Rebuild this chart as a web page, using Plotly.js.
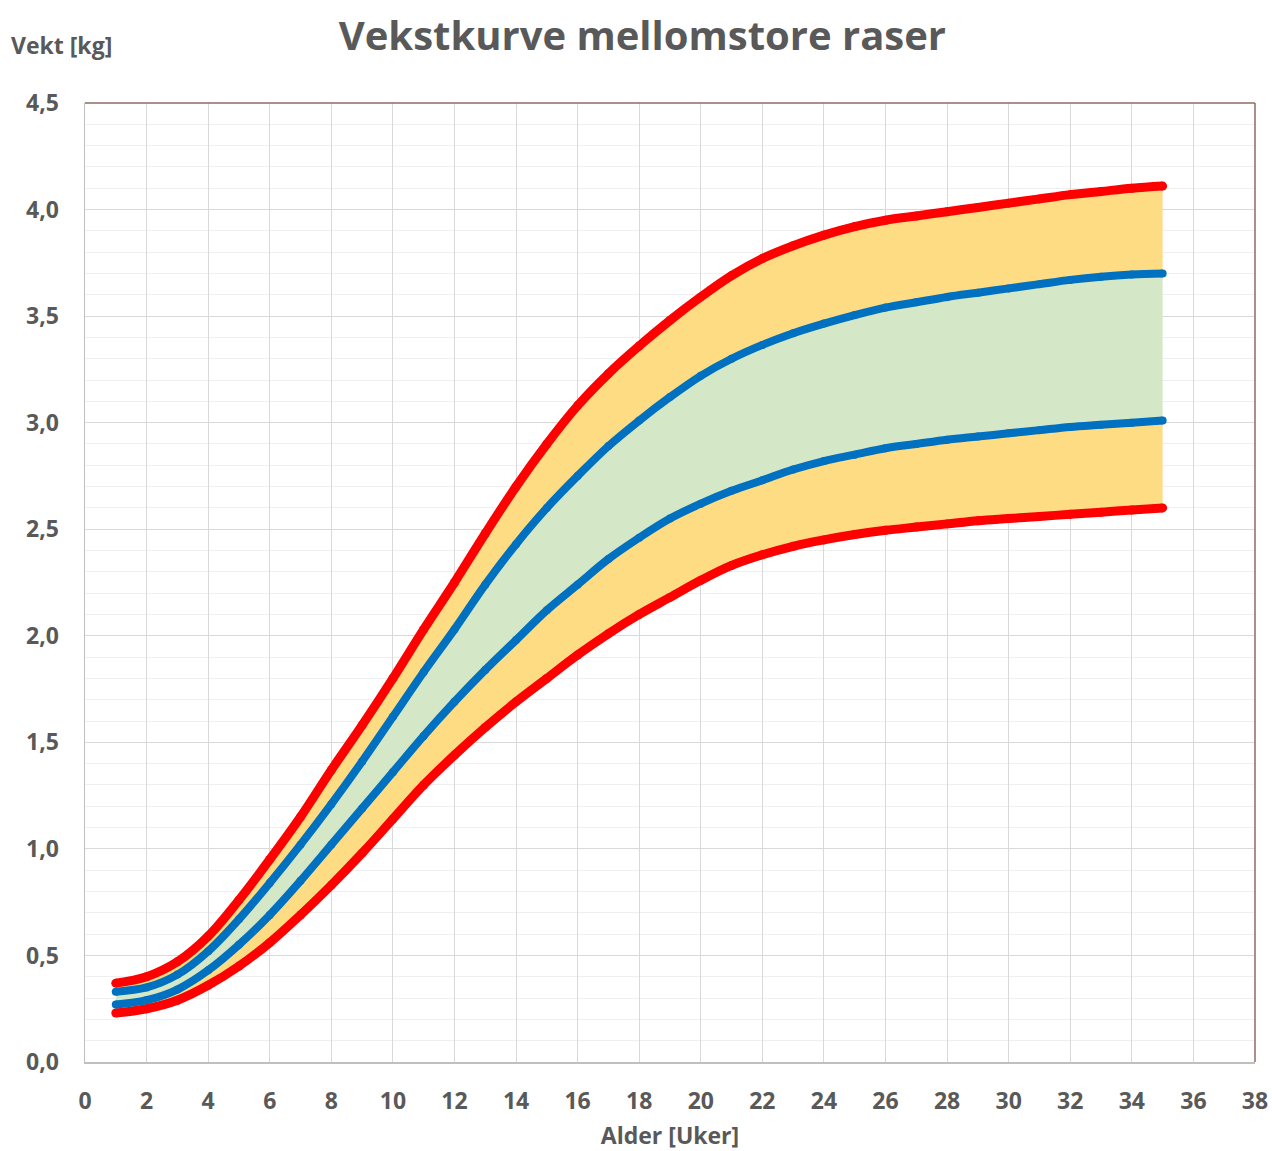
<!DOCTYPE html>
<html>
<head>
<meta charset="utf-8">
<script src="https://cdn.plot.ly/plotly-3.0.1.min.js"></script>
<style>html,body{margin:0;padding:0;background:#fff;}#chart{width:1272px;height:1151px;}</style>
</head>
<body>
<div id="chart"></div>
<script>
const weeks = [1,2,3,4,5,6,7,8,9,10,11,12,13,14,15,16,17,18,19,20,21,22,23,24,25,26,27,28,29,30,31,32,33,34,35];
const upperRed = [0.37,0.40,0.47,0.59,0.76,0.95,1.15,1.37,1.58,1.80,2.03,2.25,2.48,2.70,2.90,3.08,3.23,3.36,3.48,3.59,3.69,3.77,3.83,3.88,3.92,3.95,3.97,3.99,4.01,4.03,4.05,4.07,4.085,4.10,4.11];
const upperBlue = [0.33,0.35,0.41,0.52,0.67,0.84,1.02,1.21,1.41,1.62,1.83,2.03,2.24,2.43,2.60,2.75,2.89,3.01,3.12,3.22,3.30,3.365,3.42,3.465,3.505,3.54,3.565,3.59,3.61,3.63,3.65,3.67,3.685,3.695,3.70];
const lowerBlue = [0.27,0.29,0.34,0.43,0.55,0.69,0.85,1.02,1.19,1.36,1.53,1.69,1.84,1.98,2.12,2.24,2.36,2.46,2.55,2.62,2.68,2.73,2.78,2.82,2.85,2.88,2.90,2.92,2.935,2.95,2.965,2.98,2.99,3.00,3.01];
const lowerRed = [0.23,0.25,0.29,0.36,0.45,0.56,0.69,0.83,0.98,1.14,1.30,1.44,1.57,1.69,1.80,1.91,2.01,2.10,2.18,2.26,2.33,2.38,2.42,2.45,2.475,2.495,2.51,2.525,2.54,2.55,2.56,2.57,2.58,2.59,2.60];
const xTicks = [0,2,4,6,8,10,12,14,16,18,20,22,24,26,28,30,32,34,36,38];
const yTicks = [0,0.5,1.0,1.5,2.0,2.5,3.0,3.5,4.0,4.5];

const YELLOW = '#FEDC84';
const GREEN = '#D4E7C6';
const RED = '#FF0000';
const BLUE = '#0070C0';
const TXT = '#595959';
const FONT = 'Open Sans, sans-serif';

const traces = [
  {x: weeks, y: lowerRed, type:'scatter', mode:'lines', line:{color:'#FFC000', width:1, shape:'spline'}, hoverinfo:'skip', showlegend:false},
  {x: weeks, y: lowerBlue, type:'scatter', mode:'lines', fill:'tonexty', fillcolor:YELLOW, line:{color:'#FFC000', width:1, shape:'spline'}, hoverinfo:'skip', showlegend:false},
  {x: weeks, y: upperBlue, type:'scatter', mode:'lines', fill:'tonexty', fillcolor:GREEN, line:{color:'#A9D18E', width:1, shape:'spline'}, hoverinfo:'skip', showlegend:false},
  {x: weeks, y: upperRed, type:'scatter', mode:'lines', fill:'tonexty', fillcolor:YELLOW, line:{color:'#FFC000', width:1, shape:'spline'}, hoverinfo:'skip', showlegend:false},
  {x: weeks, y: lowerRed, type:'scatter', mode:'lines+markers', line:{color:RED, width:9, shape:'spline'}, marker:{color:RED, size:9}, showlegend:false},
  {x: weeks, y: lowerBlue, type:'scatter', mode:'lines+markers', line:{color:BLUE, width:8, shape:'spline'}, marker:{color:BLUE, size:8}, showlegend:false},
  {x: weeks, y: upperBlue, type:'scatter', mode:'lines+markers', line:{color:BLUE, width:8, shape:'spline'}, marker:{color:BLUE, size:8}, showlegend:false},
  {x: weeks, y: upperRed, type:'scatter', mode:'lines+markers', line:{color:RED, width:9, shape:'spline'}, marker:{color:RED, size:9}, showlegend:false}
];

const layout = {
  width: 1272, height: 1151,
  margin: {l:85, r:17, t:103, b:89},
  paper_bgcolor:'#fff', plot_bgcolor:'#fff',
  separators: ',.',
  font: {family:FONT, color: TXT},
  title: {text:'<b>Vekstkurve mellomstore raser</b>', x:0.505, xanchor:'center', y:0.969, yanchor:'middle', font:{size:40, color:TXT, family:FONT}},
  xaxis: {
    range:[0,38], tickvals:xTicks, ticktext:xTicks.map(String),
    showgrid:true, gridcolor:'#D9D9D9', gridwidth:1,
    showline:true, linecolor:'#BFBFBF', linewidth:1.5,
    ticks:'outside', ticklen:18, tickcolor:'rgba(0,0,0,0)',
    tickfont:{size:23, color:TXT, family:FONT, weight:'bold'},
    zeroline:false, fixedrange:true,
    title:{text:'<b>Alder [Uker]</b>', font:{size:23, color:TXT, family:FONT}, standoff:14}
  },
  yaxis: {
    range:[0,4.5], tickvals:yTicks, ticktext:yTicks.map(v=>v.toFixed(1).replace('.',',')),
    showgrid:true, gridcolor:'#D9D9D9', gridwidth:1,
    minor:{dtick:0.1, showgrid:true, gridcolor:'#EFEFEF', gridwidth:1},
    showline:true, linecolor:'#BFBFBF', linewidth:1.5,
    ticks:'outside', ticklen:20, tickcolor:'rgba(0,0,0,0)',
    tickfont:{size:23, color:TXT, family:FONT, weight:'bold'},
    zeroline:false, fixedrange:true
  },
  shapes: [
    {type:'line', xref:'paper', yref:'paper', x0:0, x1:1, y0:1, y1:1, line:{color:'#8E6A63', width:1.5}},
    {type:'line', xref:'paper', yref:'paper', x0:1, x1:1, y0:0, y1:1, line:{color:'#8E6A63', width:1.5}}
  ],
  annotations: [
    {text:'<b>Vekt [kg]</b>', xref:'paper', yref:'paper', x:-0.065, y:1.06, xanchor:'left', yanchor:'middle', showarrow:false, font:{size:23, color:TXT, family:FONT}}
  ]
};

Plotly.newPlot('chart', traces, layout, {staticPlot:true});
</script>
</body>
</html>
